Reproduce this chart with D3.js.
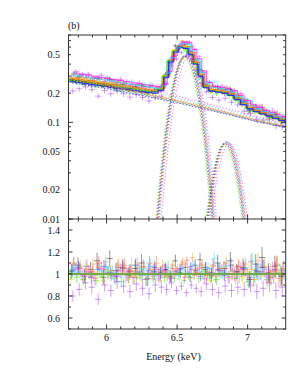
<!DOCTYPE html>
<html><head><meta charset="utf-8">
<script src="https://cdn.jsdelivr.net/npm/d3@7"></script>
<style>
html,body{margin:0;padding:0;background:#fff;}
svg{display:block;}
text{font-family:"Liberation Serif","Times New Roman",serif;font-size:10px;fill:#111;}
</style>
</head><body>
<svg id="c" width="288" height="379"></svg>
<script>
// ---------------- DATA ----------------
const binEdges = [5.73,5.775,5.82,5.865,5.91,5.955,6.00,6.045,6.09,6.135,6.18,6.225,6.27,6.315,6.36,6.40,6.435,6.47,6.505,6.54,6.575,6.61,6.645,6.68,6.72,6.765,6.81,6.855,6.90,6.945,6.99,7.035,7.08,7.125,7.17,7.215,7.26,7.305];
// total model (lowest series) per bin, counts/s/keV
const baseModel = [0.262,0.257,0.251,0.246,0.241,0.236,0.231,0.226,0.221,0.216,0.212,0.207,0.203,0.200,0.212,0.290,0.420,0.530,0.590,0.580,0.500,0.400,0.300,0.228,0.210,0.205,0.200,0.190,0.172,0.152,0.138,0.129,0.122,0.116,0.110,0.105,0.100];
// continuum component per bin (dotted)
const contBase = [0.255,0.249,0.243,0.237,0.231,0.225,0.219,0.212,0.206,0.200,0.195,0.189,0.183,0.178,0.173,0.168,0.164,0.160,0.156,0.152,0.148,0.144,0.140,0.136,0.132,0.127,0.123,0.119,0.114,0.110,0.106,0.102,0.099,0.096,0.093,0.090,0.087];
// Fe K-alpha component (dotted)
const kaEnergy = [6.30,6.32,6.34,6.36,6.38,6.40,6.42,6.44,6.46,6.48,6.50,6.52,6.54,6.56,6.58,6.60,6.62,6.64,6.66,6.68,6.70,6.72,6.74,6.76,6.78,6.80];
const kaValue  = [0.0006,0.0018,0.0050,0.0112,0.0235,0.0450,0.0790,0.1290,0.195,0.273,0.353,0.423,0.467,0.478,0.450,0.390,0.312,0.230,0.156,0.0975,0.0562,0.0298,0.0146,0.0066,0.0027,0.0010];
// Fe K-beta component (dotted)
const kbEnergy = [6.66,6.68,6.70,6.72,6.74,6.76,6.78,6.80,6.82,6.84,6.86,6.88,6.90,6.92,6.94,6.96,6.98,7.00,7.02];
const kbValue  = [0.0012,0.0035,0.0072,0.0127,0.0204,0.0300,0.0407,0.0505,0.0575,0.0600,0.0575,0.0505,0.0407,0.0300,0.0204,0.0127,0.0072,0.0038,0.0016];
// relative 1-sigma errors per bin
const errBase = [0.06,0.06,0.06,0.06,0.06,0.06,0.06,0.065,0.065,0.065,0.065,0.065,0.065,0.065,0.06,0.055,0.05,0.045,0.04,0.04,0.04,0.045,0.05,0.055,0.06,0.06,0.06,0.065,0.065,0.07,0.07,0.075,0.075,0.08,0.08,0.085,0.085];

const seriesNames = ["black","red","green","blue","cyan","magenta","yellow","orange","purple"];
const seriesColors = ["#000000","#ff2020","#00e000","#1010ff","#00e0ff","#ff00ff","#d8e800","#ff8000","#9020ff"];
const seriesNorm = [1.04,1.05,1.02,1.00,1.11,1.15,1.05,1.06,1.00];
const seriesTilt = [0.2,0.25,0.1,0.0,0.5,0.57,0.3,0.3,0.05];
const seriesLineNorm = [1.0,1.04,0.98,1.02,1.06,1.0,0.97,1.03,1.05];
const seriesShift = [0,0.012,-0.008,0.004,0.02,0.03,-0.004,0.016,0.008];
const seriesErrScale = [1.1,0.9,0.9,0.9,1.0,1.0,0.9,0.9,1.1];

// data / model ratios
const ratioBlack   = [1.02,1.08,0.98,1.04,1.12,0.97,1.14,1.03,1.06,0.99,1.05,1.10,0.96,1.02,1.00,1.04,0.98,1.12,1.01,1.06,0.97,1.08,1.13,1.04,0.99,1.10,1.05,1.12,1.02,1.06,0.95,1.09,1.15,1.01,1.07,0.98,1.04];
const ratioRed     = [1.09,1.05,1.07,1.02,1.10,1.04,0.99,1.06,1.08,1.03,1.01,1.07,1.10,1.04,1.02,0.98,1.05,1.03,1.09,1.12,1.04,1.01,1.06,0.99,1.08,1.03,1.05,1.00,1.07,1.04,1.11,1.02,1.06,0.97,1.08,1.03,1.05];
const ratioGreen   = [1.00,0.97,0.95,1.01,0.94,0.98,1.02,0.96,0.93,0.99,0.97,1.01,0.95,0.98,1.00,0.97,0.99,0.96,1.01,0.94,0.98,1.00,0.96,1.02,0.97,0.95,1.01,0.98,0.96,1.00,0.93,0.99,1.02,0.95,0.98,1.01,0.96];
const ratioBlue    = [1.03,1.06,1.00,0.97,1.04,1.07,1.01,0.98,1.05,1.02,1.08,0.99,1.03,1.06,1.01,1.04,0.97,1.02,1.05,1.00,1.07,1.03,0.98,1.06,1.01,1.04,0.99,1.08,1.02,1.05,0.97,1.03,1.06,1.00,1.04,0.98,1.02];
const ratioCyan    = [1.05,1.02,1.07,0.99,1.03,1.06,1.01,1.04,0.97,1.08,1.02,1.05,1.07,1.00,1.03,1.06,1.02,0.99,1.04,1.01,1.09,1.03,1.00,1.05,1.14,1.02,1.07,1.03,0.98,1.06,1.12,1.01,1.04,0.97,1.08,1.03,1.00];
const ratioMagenta = [1.04,0.99,1.02,0.96,1.05,1.01,0.98,1.03,1.00,0.97,1.02,0.95,1.01,0.99,1.03,0.96,1.00,1.04,0.97,1.02,0.99,1.05,0.96,1.01,0.98,1.03,0.97,1.00,1.04,0.99,0.95,1.02,0.98,1.03,0.96,1.01,0.99];
const ratioYellow  = [0.95,0.98,0.96,1.00,0.97,0.94,0.99,0.96,1.01,0.95,0.98,0.97,1.00,0.96,0.94,0.99,0.97,1.00,0.95,0.98,0.96,0.99,1.01,0.97,0.94,0.98,1.00,0.96,0.99,0.97,1.02,0.95,0.98,0.93,1.00,0.96,0.98];
const ratioOrange  = [1.10,1.07,1.04,1.09,1.06,1.11,1.03,1.08,1.05,1.02,1.09,1.06,1.04,1.10,1.07,1.03,1.08,1.05,1.11,1.06,1.15,1.04,1.08,1.02,1.07,1.05,1.10,1.03,1.06,1.09,1.04,1.12,1.07,1.02,1.09,1.05,1.08];
const ratioPurple  = [0.80,0.86,0.92,0.88,0.77,0.90,0.85,0.93,0.89,0.84,0.91,0.87,0.82,0.90,0.88,0.86,0.92,0.85,0.89,0.83,0.90,0.87,0.84,0.91,0.86,0.83,0.89,0.85,0.88,0.86,0.90,0.84,0.87,0.92,0.85,0.88,0.83];
const seriesRatios = [ratioBlack,ratioRed,ratioGreen,ratioBlue,ratioCyan,ratioMagenta,ratioYellow,ratioOrange,ratioPurple];

const xTickValues = [6,6.5,7];
const xTickLabels = ["6","6.5","7"];
const yTopTickValues = [0.5,0.2,0.1,0.05,0.02,0.01];
const yTopTickLabels = ["0.5","0.2","0.1","0.05","0.02","0.01"];
const yBotTickValues = [1.4,1.2,1,0.8,0.6];
const yBotTickLabels = ["1.4","1.2","1","0.8","0.6"];
const xLabel = "Energy (keV)";
const panelLabel = "(b)";

// ---------------- LAYOUT ----------------
const L = 68.5, R = 285.7, T = 35, M = 219, B = 329;
const svg = d3.select("#c");
const x = d3.scaleLinear().domain([5.73, 7.27]).range([L, R]);
const yTop = d3.scaleLog().domain([0.01, 0.8]).range([M, T]);
const yBot = d3.scaleLinear().domain([0.5, 1.5]).range([B, M]);

const defs = svg.append("defs");
defs.append("clipPath").attr("id","clipTop").append("rect").attr("x",L).attr("y",T).attr("width",R-L).attr("height",M-T);
defs.append("clipPath").attr("id","clipBot").append("rect").attr("x",L).attr("y",M).attr("width",R-L).attr("height",B-M);

const gTop = svg.append("g").attr("clip-path","url(#clipTop)");
const gBot = svg.append("g").attr("clip-path","url(#clipBot)");

const nBins = binEdges.length - 1;
const centers = d3.range(nBins).map(i => (binEdges[i]+binEdges[i+1])/2);
function tiltF(s, E){ return Math.pow(E/6.5, -seriesTilt[s]); }
function modelVal(s, i){ return baseModel[i]*seriesNorm[s]*tiltF(s, centers[i]); }

// crosses (data) top & residual
seriesNames.forEach((nm, s) => {
  const col = seriesColors[s];
  const gt = gTop.append("g").attr("stroke", col).attr("stroke-opacity",0.42).attr("stroke-width",1);
  const gb = gBot.append("g").attr("stroke", col).attr("stroke-opacity",0.42).attr("stroke-width",1);
  for (let i=0;i<nBins;i++){
    const e0 = binEdges[i]+seriesShift[s], e1 = binEdges[i+1]+seriesShift[s], ec=(e0+e1)/2;
    const r = seriesRatios[s][i];
    const err = errBase[i]*seriesErrScale[s];
    const d = modelVal(s,i)*r;
    gt.append("line").attr("x1",x(e0)).attr("x2",x(e1)).attr("y1",yTop(d)).attr("y2",yTop(d));
    gt.append("line").attr("x1",x(ec)).attr("x2",x(ec)).attr("y1",yTop(d*(1-err))).attr("y2",yTop(d*(1+err)));
    gb.append("line").attr("x1",x(e0)).attr("x2",x(e1)).attr("y1",yBot(r)).attr("y2",yBot(r));
    gb.append("line").attr("x1",x(ec)).attr("x2",x(ec)).attr("y1",yBot(r*(1-err))).attr("y2",yBot(r*(1+err)));
  }
});

// model step lines
const lineGen = d3.line().x(d=>x(d[0])).y(d=>d[1]);
const drawOrder = [0,1,7,6,2,8,3,4,5];
drawOrder.forEach(s => {
  const pts = [];
  for (let i=0;i<nBins;i++){
    const v = modelVal(s,i);
    pts.push([binEdges[i]+seriesShift[s], yTop(v)]);
    pts.push([binEdges[i+1]+seriesShift[s], yTop(v)]);
  }
  gTop.append("path").attr("d", lineGen(pts)).attr("fill","none")
    .attr("stroke", seriesColors[s]).attr("stroke-width",1).attr("stroke-opacity",0.7);
});

// dotted components
const dotLine = d3.line().x(d=>x(d[0])).y(d=>yTop(d[1])).curve(d3.curveMonotoneX);
seriesNames.forEach((nm, s) => {
  const col = seriesColors[s];
  const cont = centers.map((c,i)=>[c+seriesShift[s], contBase[i]*seriesNorm[s]*tiltF(s,c)]);
  const ka = kaEnergy.map((e,i)=>[e+seriesShift[s], Math.max(kaValue[i]*seriesLineNorm[s],0.005)]);
  const kb = kbEnergy.map((e,i)=>[e+seriesShift[s], Math.max(kbValue[i]*seriesLineNorm[s],0.005)]);
  [cont,ka,kb].forEach(p => {
    gTop.append("path").attr("d", dotLine(p)).attr("fill","none")
      .attr("stroke", col).attr("stroke-width",1.2).attr("stroke-opacity",0.5)
      .attr("stroke-dasharray","1.2,2");
  });
});

// ratio = 1 lines
[8,3,0,1,7,4,5,6,2].forEach(s => {
  const pts = [];
  for (let i=0;i<nBins;i++){
    pts.push([binEdges[i]+seriesShift[s], yBot(1)]);
    pts.push([binEdges[i+1]+seriesShift[s], yBot(1)]);
  }
  gBot.append("path").attr("d", lineGen(pts)).attr("fill","none")
    .attr("stroke", seriesColors[s]).attr("stroke-width",1).attr("stroke-opacity",0.75);
});

// ---------------- AXES / FRAME ----------------
const ax = svg.append("g").attr("stroke","#333").attr("stroke-width",1).attr("fill","none");
ax.append("rect").attr("x",L).attr("y",T).attr("width",R-L).attr("height",B-T);
ax.append("line").attr("x1",L).attr("x2",R).attr("y1",M).attr("y2",M);

const minorX = d3.range(58, 73).map(v=>v/10);
minorX.forEach(v => {
  const major = xTickValues.some(t=>Math.abs(t-v)<1e-6);
  const len = major ? 4.5 : 2.5;
  const px = x(v);
  [[T,1],[M,-1],[M,1],[B,-1]].forEach(([y0,dir]) => {
    ax.append("line").attr("x1",px).attr("x2",px).attr("y1",y0).attr("y2",y0+dir*len);
  });
});
// log ticks top panel
const logTicks = [];
for (const dec of [0.01,0.1]) for (let k=1;k<=9;k++) logTicks.push(dec*k);
logTicks.filter(v=>v>=0.01-1e-9 && v<=0.8+1e-9).forEach(v => {
  const major = Math.abs(v-0.1)<1e-9 || Math.abs(v-0.01)<1e-9;
  const len = major ? 4.5 : 2.5;
  const py = yTop(v);
  ax.append("line").attr("x1",L).attr("x2",L+len).attr("y1",py).attr("y2",py);
  ax.append("line").attr("x1",R).attr("x2",R-len).attr("y1",py).attr("y2",py);
});
d3.range(5,16).map(v=>v/10).forEach(v => {
  const major = yBotTickValues.some(t=>Math.abs(t-v)<1e-6);
  const len = major ? 4 : 2.5;
  const py = yBot(v);
  ax.append("line").attr("x1",L).attr("x2",L+len).attr("y1",py).attr("y2",py);
  ax.append("line").attr("x1",R).attr("x2",R-len).attr("y1",py).attr("y2",py);
});

// labels
yTopTickValues.forEach((v,i) => {
  svg.append("text").attr("x",60).attr("y",yTop(v)+3.5).attr("text-anchor","end").text(yTopTickLabels[i]);
});
yBotTickValues.forEach((v,i) => {
  svg.append("text").attr("x",60).attr("y",yBot(v)+3.5).attr("text-anchor","end").text(yBotTickLabels[i]);
});
xTickValues.forEach((v,i) => {
  svg.append("text").attr("x",x(v)).attr("y",341).attr("text-anchor","middle").text(xTickLabels[i]);
});
svg.append("text").attr("x",173.5).attr("y",360).attr("text-anchor","middle").text(xLabel);
svg.append("text").attr("x",68).attr("y",29).text(panelLabel);
</script>
</body></html>
